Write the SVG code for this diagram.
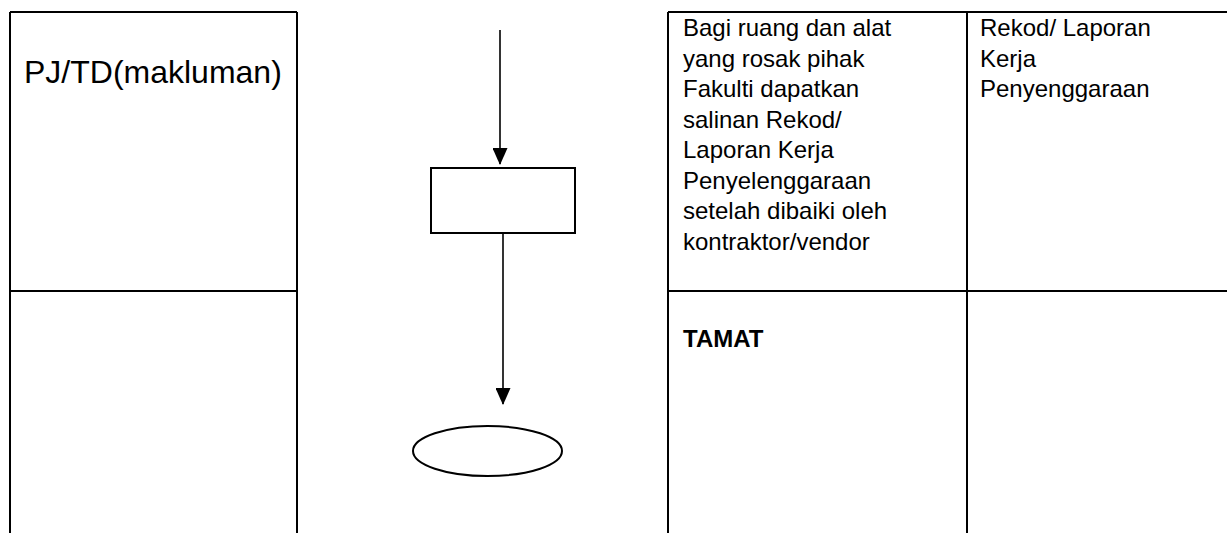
<svg xmlns="http://www.w3.org/2000/svg" width="1227" height="533" viewBox="0 0 1227 533">
  <style>
    .border { stroke: #000; stroke-width: 2; fill: none; }
    .shape { stroke: #000; stroke-width: 2; fill: #fff; }
    .conn { stroke: #000; stroke-width: 1.6; fill: none; marker-end: url(#arrow); }
    .txt { font-family: "Liberation Sans", Arial, sans-serif; font-size: 24px; fill: #000; }
    .big { font-size: 32px; }
    .bold { font-weight: bold; }
  </style>
  <defs>
    <marker id="arrow" markerUnits="userSpaceOnUse" markerWidth="17" markerHeight="15" refX="16" refY="7.5" orient="auto" viewBox="0 0 17 15">
      <path d="M0,0 L17,7.5 L0,15 Z" fill="#000"/>
    </marker>
  </defs>

  <g id="left-table">
    <line class="border" x1="10" y1="12" x2="297" y2="12"/>
    <line class="border" x1="10" y1="12" x2="10" y2="533"/>
    <line class="border" x1="297" y1="12" x2="297" y2="533"/>
    <line class="border" x1="10" y1="291" x2="297" y2="291"/>
    <text class="txt big" x="24" y="83">PJ/TD(makluman)</text>
  </g>

  <g id="right-table">
    <line class="border" x1="668" y1="12" x2="1227" y2="12"/>
    <line class="border" x1="668" y1="12" x2="668" y2="533"/>
    <line class="border" x1="967" y1="12" x2="967" y2="533"/>
    <line class="border" x1="668" y1="291" x2="1227" y2="291"/>
  </g>

  <g id="desc-cell">
    <text class="txt" x="683" y="36">Bagi ruang dan alat</text>
    <text class="txt" x="683" y="66.5">yang rosak pihak</text>
    <text class="txt" x="683" y="97">Fakulti dapatkan</text>
    <text class="txt" x="683" y="127.5">salinan Rekod/</text>
    <text class="txt" x="683" y="158">Laporan Kerja</text>
    <text class="txt" x="683" y="188.5">Penyelenggaraan</text>
    <text class="txt" x="683" y="219">setelah dibaiki oleh</text>
    <text class="txt" x="683" y="249.5">kontraktor/vendor</text>
  </g>

  <g id="record-cell">
    <text class="txt" x="980" y="36">Rekod/ Laporan</text>
    <text class="txt" x="980" y="66.5">Kerja</text>
    <text class="txt" x="980" y="97">Penyenggaraan</text>
  </g>

  <g id="tamat-cell">
    <text class="txt bold" x="683" y="347">TAMAT</text>
  </g>

  <g id="process-box">
    <rect class="shape" x="431" y="168" width="144" height="65"/>
  </g>

  <g id="end-terminal">
    <ellipse class="shape" cx="487.5" cy="451" rx="74.5" ry="25"/>
  </g>

  <g id="connectors">
    <line class="conn" x1="500" y1="30" x2="500" y2="164"/>
    <line class="conn" x1="503" y1="233" x2="503" y2="404"/>
  </g>
</svg>
